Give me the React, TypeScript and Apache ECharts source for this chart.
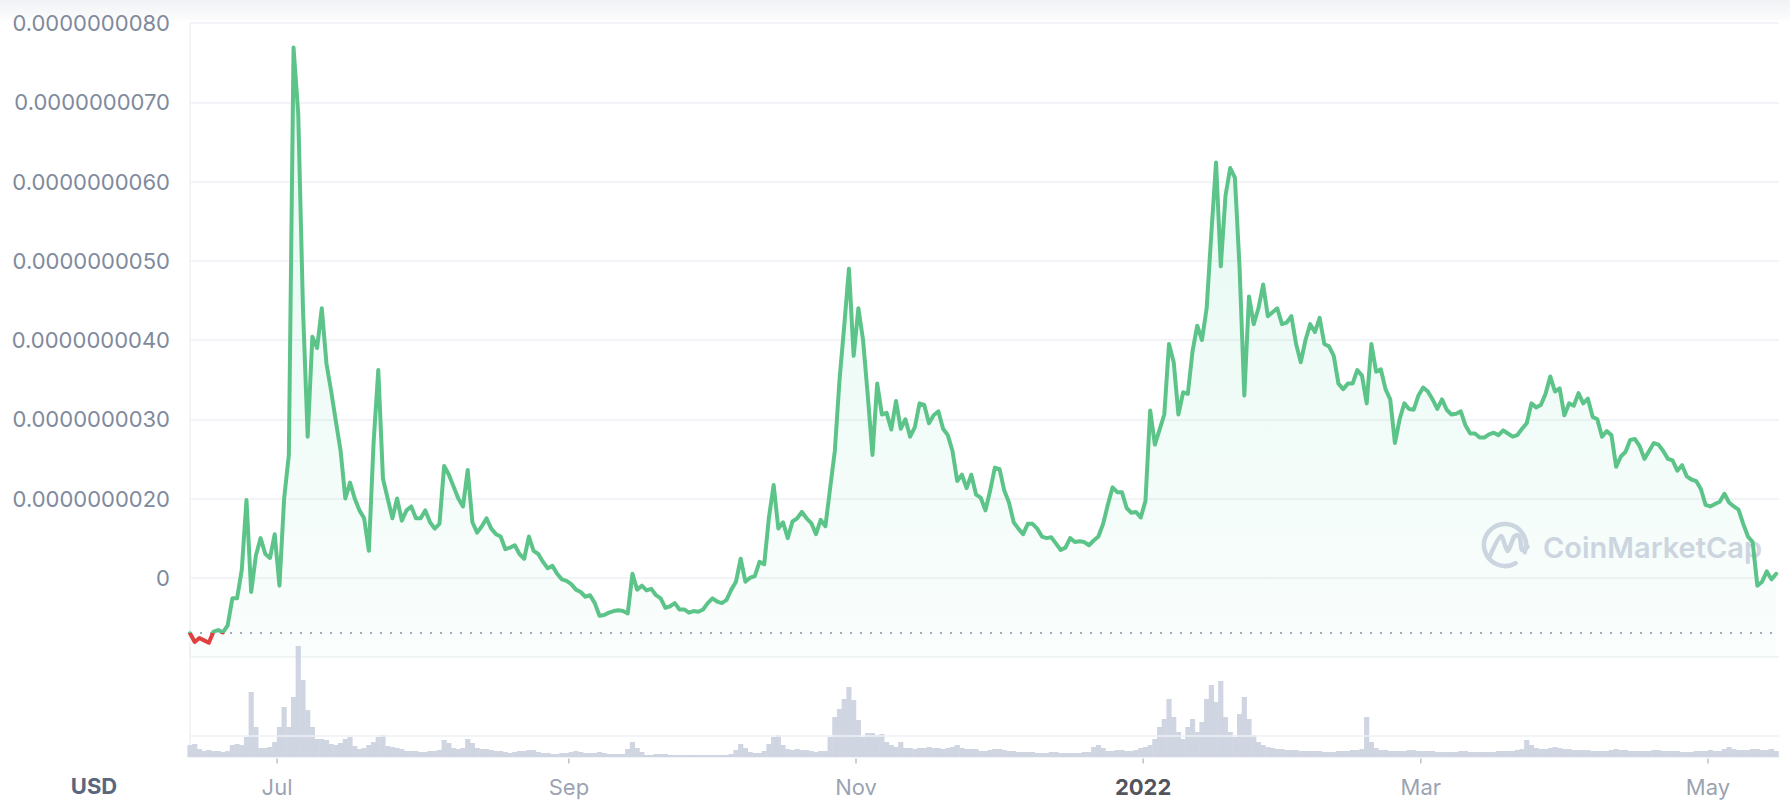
import React, { useEffect, useRef } from "react";
import * as echarts from "echarts";

// ---------- data ----------
// daily samples starting 12 Jun 2021 (12:00 UTC)
const START = Date.UTC(2021, 5, 12, 12);
const DAY = 86400000;
const X_SPAN_DAYS = 337.6;

// price in units of 1e-9 USD
const PRICE_NANO_USD: number[] = [
  0.30, 0.19, 0.24, 0.21, 0.18, 0.32, 0.34, 0.31, 0.40, 0.74,
  0.74, 1.10, 1.98, 0.82, 1.28, 1.50, 1.30, 1.25, 1.55, 0.90,
  2.00, 2.55, 7.69, 6.85, 4.40, 2.78, 4.04, 3.90, 4.40, 3.70,
  3.35, 2.97, 2.60, 2.00, 2.20, 2.00, 1.85, 1.75, 1.34, 2.70,
  3.62, 2.25, 2.00, 1.75, 2.00, 1.72, 1.85, 1.90, 1.75, 1.75,
  1.85, 1.70, 1.62, 1.68, 2.41, 2.30, 2.15, 2.00, 1.90, 2.36,
  1.70, 1.57, 1.65, 1.75, 1.62, 1.55, 1.52, 1.36, 1.38, 1.41,
  1.30, 1.24, 1.52, 1.34, 1.30, 1.20, 1.12, 1.15, 1.05, 0.98,
  0.96, 0.92, 0.85, 0.82, 0.76, 0.78, 0.68, 0.52, 0.53, 0.56,
  0.58, 0.59, 0.58, 0.55, 1.05, 0.85, 0.90, 0.84, 0.86, 0.78,
  0.74, 0.62, 0.64, 0.68, 0.60, 0.60, 0.56, 0.58, 0.57, 0.60,
  0.68, 0.74, 0.70, 0.68, 0.72, 0.85, 0.95, 1.24, 0.95, 1.00,
  1.02, 1.20, 1.17, 1.76, 2.17, 1.62, 1.70, 1.50, 1.71, 1.75,
  1.83, 1.75, 1.69, 1.55, 1.73, 1.65, 2.13, 2.60, 3.50, 4.18,
  4.90, 3.80, 4.40, 4.00, 3.30, 2.55, 3.45, 3.06, 3.08, 2.87,
  3.23, 2.88, 3.00, 2.78, 2.90, 3.20, 3.18, 2.95, 3.05, 3.10,
  2.88, 2.80, 2.60, 2.22, 2.30, 2.13, 2.30, 2.05, 2.01, 1.85,
  2.10, 2.39, 2.37, 2.10, 1.95, 1.70, 1.62, 1.55, 1.68, 1.68,
  1.62, 1.52, 1.50, 1.51, 1.43, 1.35, 1.38, 1.50, 1.45, 1.46,
  1.45, 1.41, 1.47, 1.52, 1.68, 1.92, 2.14, 2.08, 2.08, 1.88,
  1.82, 1.83, 1.76, 1.97, 3.11, 2.68, 2.87, 3.06, 3.95, 3.72,
  3.06, 3.34, 3.32, 3.86, 4.18, 4.00, 4.40, 5.35, 6.24, 4.93,
  5.82, 6.17, 6.05, 4.90, 3.30, 4.55, 4.20, 4.40, 4.70, 4.30,
  4.35, 4.40, 4.20, 4.22, 4.30, 3.95, 3.72, 4.00, 4.20, 4.10,
  4.28, 3.95, 3.92, 3.80, 3.45, 3.38, 3.45, 3.45, 3.62, 3.55,
  3.20, 3.95, 3.60, 3.63, 3.38, 3.25, 2.70, 3.00, 3.20, 3.13,
  3.12, 3.30, 3.40, 3.35, 3.25, 3.13, 3.25, 3.12, 3.06, 3.07,
  3.10, 2.92, 2.82, 2.82, 2.77, 2.77, 2.81, 2.83, 2.80, 2.86,
  2.82, 2.78, 2.80, 2.88, 2.95, 3.20, 3.15, 3.18, 3.32, 3.54,
  3.35, 3.39, 3.05, 3.20, 3.17, 3.33, 3.20, 3.26, 3.03, 3.00,
  2.78, 2.85, 2.80, 2.40, 2.53, 2.59, 2.74, 2.75, 2.66, 2.50,
  2.60, 2.70, 2.68, 2.60, 2.50, 2.48, 2.35, 2.42, 2.28, 2.24,
  2.22, 2.12, 1.92, 1.90, 1.93, 1.96, 2.06, 1.95, 1.90, 1.86,
  1.68, 1.52, 1.45, 0.90, 0.95, 1.08, 0.98, 1.05,
];

// daily traded volume (relative units)
const VOLUME: number[] = [
  12, 13, 8, 6, 7, 6, 6, 5, 6, 12,
  13, 12, 20, 65, 30, 9, 9, 10, 15, 30,
  50, 30, 60, 111, 77, 47, 30, 18, 18, 17,
  13, 12, 14, 18, 20, 11, 8, 9, 12, 15,
  20, 22, 11, 10, 9, 8, 6, 6, 6, 5,
  5, 6, 6, 7, 17, 14, 9, 8, 9, 18,
  14, 9, 8, 8, 7, 6, 6, 5, 4, 5,
  6, 6, 7, 7, 5, 4, 4, 3, 3, 4,
  4, 5, 6, 5, 4, 4, 4, 5, 4, 3,
  3, 3, 3, 8, 15, 9, 5, 2, 2, 3,
  3, 3, 2, 2, 2, 2, 2, 2, 2, 2,
  2, 2, 2, 2, 2, 3, 7, 13, 9, 5,
  4, 4, 6, 13, 20, 22, 12, 8, 7, 8,
  7, 7, 6, 5, 6, 6, 20, 40, 48, 58,
  70, 57, 37, 20, 24, 24, 22, 23, 15, 12,
  10, 15, 9, 9, 8, 9, 9, 10, 9, 9,
  8, 9, 10, 12, 9, 8, 8, 8, 6, 6,
  7, 8, 8, 7, 6, 6, 5, 5, 5, 5,
  4, 4, 4, 5, 5, 4, 4, 4, 4, 4,
  5, 5, 10, 12, 9, 6, 6, 7, 7, 6,
  6, 7, 9, 10, 12, 18, 30, 38, 58, 40,
  25, 18, 30, 38, 25, 35, 58, 72, 55, 76,
  40, 25, 20, 43, 60, 38, 22, 15, 12, 10,
  9, 8, 8, 7, 7, 7, 6, 6, 6, 6,
  6, 5, 5, 5, 6, 6, 6, 7, 7, 8,
  40, 15, 9, 7, 7, 6, 6, 6, 6, 7,
  7, 6, 6, 6, 6, 5, 5, 5, 5, 5,
  6, 6, 5, 5, 5, 5, 5, 5, 6, 6,
  6, 6, 7, 8, 17, 12, 9, 8, 8, 9,
  10, 9, 8, 8, 7, 7, 7, 7, 6, 6,
  6, 6, 7, 8, 7, 7, 6, 6, 6, 6,
  6, 7, 7, 6, 6, 6, 6, 5, 5, 5,
  6, 6, 6, 7, 6, 6, 8, 10, 8, 7,
  7, 7, 8, 8, 7, 7, 8, 6,
];

const OPEN_PRICE_NANO = 0.3;
const VOLUME_GUIDE = 21;
const VOLUME_MAX = 111;

const Y_MIN = 0;
const Y_MAX = 8;
const Y_STEP = 1;

const MONTH_TICKS: number[] = [
  Date.UTC(2021, 6, 1),
  Date.UTC(2021, 8, 1),
  Date.UTC(2021, 10, 1),
  Date.UTC(2022, 0, 1),
  Date.UTC(2022, 2, 1),
  Date.UTC(2022, 4, 1),
];
const MONTH_LABELS: string[] = ["Jul", "Sep", "Nov", "2022", "Mar", "May"];
const YEAR_LABELS: string[] = ["2022"];

// ---------- style ----------
const GREEN = "#5cc489";
const RED = "#e0413f";
const GRID_LINE = "#eff1f5";
const LABEL = "#808a9d";
const FONT = "Inter, 'Noto Sans', sans-serif";

function formatPrice(n: number): string {
  const r = Math.round(n);
  if (r === 0) return "";
  if (r === 1) return "0";
  return (n * 1e-9).toFixed(10);
}

export default function App() {
  const ref = useRef<HTMLDivElement>(null);

  useEffect(() => {
    if (!ref.current) return;
    const chart = echarts.init(ref.current, undefined, { renderer: "svg" });

    const xMin = START;
    const xMax = START + X_SPAN_DAYS * DAY;
    const priceData = PRICE_NANO_USD.map((v, i) => [START + i * DAY, v]);
    const volData = VOLUME.map((v, i) => [START + i * DAY, v]);
    const tickData = MONTH_TICKS.map((t, i) => ({ value: [t, 0], name: MONTH_LABELS[i] }));

    const option: any = {
      animation: false,
      backgroundColor: "#ffffff",
      grid: [
        { left: 190, right: 11, top: 23, height: 634 },
        { left: 190, right: 11, top: 646, height: 111 },
      ],
      xAxis: [
        {
          type: "value",
          gridIndex: 0,
          min: xMin,
          max: xMax,
          axisLine: { show: false },
          axisTick: { show: false },
          axisLabel: { show: false },
          splitLine: { show: false },
        },
        {
          type: "value",
          gridIndex: 1,
          min: xMin,
          max: xMax,
          axisLine: { show: true, onZero: false, lineStyle: { color: GRID_LINE, width: 1.5 } },
          axisTick: { show: false },
          axisLabel: { show: false },
          splitLine: { show: false },
        },
      ],
      yAxis: [
        {
          type: "value",
          gridIndex: 0,
          min: Y_MIN,
          max: Y_MAX,
          interval: Y_STEP,
          axisLine: { show: true, lineStyle: { color: GRID_LINE, width: 1.5 } },
          axisTick: { show: false },
          splitLine: { show: true, lineStyle: { color: GRID_LINE, width: 1.5 } },
          axisLabel: {
            color: LABEL,
            fontSize: 22,
            fontFamily: FONT,
            margin: 20,
            formatter: formatPrice,
          },
        },
        {
          type: "value",
          gridIndex: 1,
          min: 0,
          max: VOLUME_MAX,
          axisLine: { show: true, lineStyle: { color: GRID_LINE, width: 1.5 } },
          axisTick: { show: false },
          axisLabel: { show: false },
          splitLine: { show: false },
        },
      ],
      visualMap: {
        show: false,
        type: "piecewise",
        seriesIndex: 0,
        dimension: 1,
        pieces: [
          { gte: Y_MIN, lt: OPEN_PRICE_NANO, color: RED },
          { gte: OPEN_PRICE_NANO, lte: Y_MAX * 2, color: GREEN },
        ],
        outOfRange: { color: GREEN },
      },
      graphic: [
        {
          type: "rect",
          silent: true,
          z: -10,
          shape: { x: 0, y: 0, width: 1790, height: 20 },
          style: {
            fill: new echarts.graphic.LinearGradient(0, 0, 0, 1, [
              { offset: 0, color: "#f1f2f5" },
              { offset: 1, color: "#fcfcfd" },
            ]),
          },
        },
        {
          type: "text",
          x: 94,
          y: 786,
          silent: true,
          style: {
            text: "USD",
            fill: "#58667e",
            fontSize: 22,
            fontWeight: "bold",
            fontFamily: FONT,
            align: "center",
            verticalAlign: "middle",
          },
        },
        {
          type: "arc",
          silent: true,
          z: 1,
          shape: {
            cx: 1505,
            cy: 545,
            r: 21,
            startAngle: (60 * Math.PI) / 180,
            endAngle: (380 * Math.PI) / 180,
            clockwise: true,
          },
          style: { stroke: "#d3d6e3", lineWidth: 4.5, fill: null, lineCap: "round" },
        },
        {
          type: "polyline",
          silent: true,
          z: 1,
          shape: {
            points: [
              [1489, 558],
              [1501, 536],
              [1507.5, 551],
              [1514, 537],
              [1517, 535],
              [1520, 538],
              [1522, 550],
              [1527.5, 547],
            ],
            smooth: 0.25,
          },
          style: { stroke: "#d3d6e3", lineWidth: 4.5, fill: null, lineCap: "round", lineJoin: "round" },
        },
        {
          type: "text",
          x: 1543,
          y: 547,
          silent: true,
          z: 1,
          style: {
            text: "CoinMarketCap",
            fill: "#d3d6e3",
            fontSize: 29,
            fontWeight: 600,
            fontFamily: FONT,
            align: "left",
            verticalAlign: "middle",
          },
        },
      ],
      series: [
        {
          type: "line",
          xAxisIndex: 0,
          yAxisIndex: 0,
          data: priceData,
          showSymbol: false,
          symbol: "none",
          z: 5,
          lineStyle: { width: 4, join: "round", cap: "round" },
          areaStyle: {
            color: new echarts.graphic.LinearGradient(0, 0, 0, 1, [
              { offset: 0, color: "rgba(22,199,132,0.17)" },
              { offset: 1, color: "rgba(22,199,132,0.03)" },
            ]),
          },
          markLine: {
            silent: true,
            symbol: ["none", "none"],
            label: { show: false },
            lineStyle: { color: "#a3aabb", width: 2, type: [2, 8] },
            data: [{ yAxis: OPEN_PRICE_NANO }],
          },
        },
        {
          type: "bar",
          xAxisIndex: 1,
          yAxisIndex: 1,
          data: volData,
          barWidth: 5.2,
          itemStyle: { color: "#d0d5e2" },
          z: 3,
          markLine: {
            silent: true,
            symbol: ["none", "none"],
            label: { show: false },
            lineStyle: { color: GRID_LINE, width: 1.5, type: "solid" },
            data: [{ yAxis: VOLUME_GUIDE }],
          },
        },
        {
          type: "scatter",
          xAxisIndex: 1,
          yAxisIndex: 1,
          data: tickData,
          clip: false,
          silent: true,
          z: 10,
          symbol: "rect",
          symbolSize: [1.5, 5],
          symbolOffset: [0, 4],
          itemStyle: { color: "#a9b0c0" },
          label: {
            show: true,
            position: "bottom",
            distance: 12,
            color: LABEL,
            fontSize: 22,
            fontFamily: FONT,
            formatter: (p: any) => (YEAR_LABELS.includes(p.name) ? `{y|${p.name}}` : p.name),
            rich: {
              y: { fontWeight: "bold", color: "#222531", fontSize: 22, fontFamily: FONT },
            },
          },
        },
      ],
    };

    chart.setOption(option);
    return () => chart.dispose();
  }, []);

  return (
    <div
      ref={ref}
      style={{ position: "fixed", left: 0, top: 0, width: "1790px", height: "810px", background: "#fff" }}
    />
  );
}
